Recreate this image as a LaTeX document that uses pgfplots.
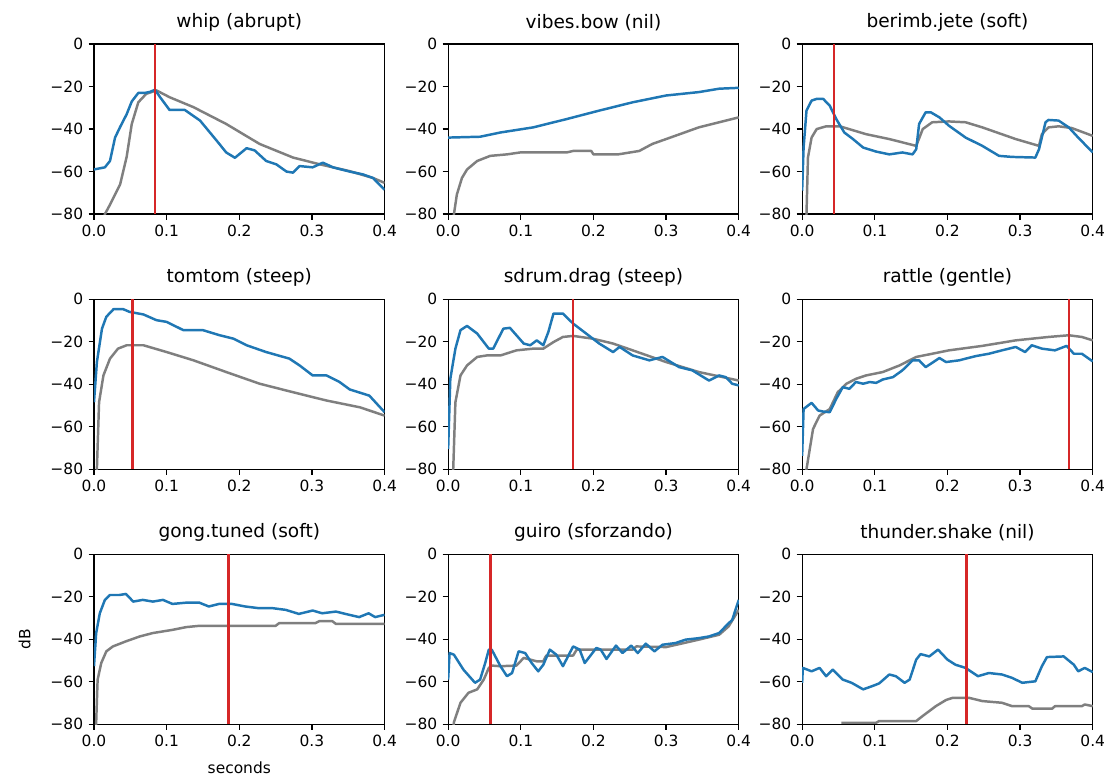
\documentclass[border=0pt]{standalone}
\usepackage{fontspec}
\setmainfont{DejaVu Sans}
\usepackage{pgfplots}
\pgfplotsset{compat=1.18}
\definecolor{cblue}{HTML}{1F77B4}
\definecolor{cgray}{HTML}{7F7F7F}
\definecolor{cred}{HTML}{D62728}

\pgfplotsset{panel/.style={
  scale only axis, width=188pt, height=110pt, anchor=north west,
  xmin=0, xmax=0.4, ymin=-80, ymax=0,
  xtick={0,0.1,0.2,0.3,0.4}, xticklabels={0.0,0.1,0.2,0.3,0.4},
  ytick={-80,-60,-40,-20,0}, yticklabels={−80,−60,−40,−20,0},
  tick align=outside, tick pos=left, major tick length=3.5pt,
  tick style={black, line width=0.8pt},
  axis line style={line width=0.8pt},
  ticklabel style={font=\fontsize{10}{12}\selectfont},
  title style={font=\fontsize{12}{14}\selectfont, yshift=-1pt},
  label style={font=\fontsize{10}{12}\selectfont},
  every axis plot/.append style={line width=1.6pt, line join=round},
}}

\begin{document}
\begin{tikzpicture}
\useasboundingbox (0,0) rectangle (720pt,-504pt);

% row 1
\begin{axis}[panel, at={(60.8pt,-28.5pt)}, title={whip (abrupt)}]
\addplot[cgray] coordinates {(0.012,-85) (0.015,-80) (0.022,-75.6) (0.036,-66) (0.045,-53) (0.052,-37.6) (0.061,-27.4) (0.072,-23.4) (0.086,-21.8) (0.104,-25) (0.137,-29.7) (0.182,-37.6) (0.228,-47) (0.274,-53.4) (0.311,-56.6) (0.352,-59.8) (0.384,-63) (0.4,-65.3)};
\addplot[cblue] coordinates {(0,-59) (0.015,-58) (0.022,-55) (0.029,-44) (0.036,-39) (0.045,-33) (0.052,-27) (0.061,-23) (0.070,-23) (0.077,-22.5) (0.084,-21.5) (0.091,-25) (0.104,-31) (0.125,-31) (0.146,-36) (0.169,-45.5) (0.182,-51) (0.194,-53.5) (0.21,-49) (0.221,-50) (0.237,-55) (0.251,-56.6) (0.265,-60) (0.274,-60.5) (0.283,-57.4) (0.301,-58) (0.315,-55.8) (0.329,-58) (0.352,-60) (0.370,-61.3) (0.384,-63) (0.4,-68.5)};
\addplot[cred] coordinates {(0.084,-80) (0.084,0)};
\end{axis}

\begin{axis}[panel, at={(289.9pt,-28.5pt)}, title={vibes.bow (nil)}]
\addplot[cgray] coordinates {(0.006,-85) (0.008,-80) (0.012,-70.8) (0.019,-63) (0.026,-59) (0.040,-55) (0.058,-52.6) (0.081,-51.9) (0.099,-51) (0.163,-51) (0.172,-50.3) (0.197,-50.3) (0.2,-51.9) (0.234,-51.9) (0.263,-50.3) (0.281,-47) (0.3,-44.7) (0.345,-39.2) (0.4,-34.5)};
\addplot[cblue] coordinates {(0,-44) (0.044,-43.6) (0.072,-41.6) (0.117,-39.2) (0.163,-35.3) (0.208,-31.3) (0.254,-27.4) (0.3,-24.2) (0.345,-22.6) (0.373,-21) (0.4,-20.6)};
\end{axis}

\begin{axis}[panel, at={(518.9pt,-28.5pt)}, title={berimb.jete (soft)}]
\addplot[cgray] coordinates {(0.005,-85) (0.006,-80) (0.008,-53.4) (0.013,-44) (0.020,-40) (0.033,-38.7) (0.052,-38.7) (0.088,-42.4) (0.120,-44.7) (0.157,-47.9) (0.166,-40) (0.179,-36.8) (0.202,-36.4) (0.225,-36.8) (0.248,-39.2) (0.294,-44.7) (0.326,-47.9) (0.330,-42.4) (0.339,-39.2) (0.353,-38.7) (0.371,-39.5) (0.4,-43.2)};
\addplot[cblue] coordinates {(0,-69) (0.002,-48.7) (0.006,-31.3) (0.013,-26.6) (0.020,-25.8) (0.029,-25.8) (0.038,-29) (0.047,-35.3) (0.058,-41.6) (0.070,-44.7) (0.084,-48.7) (0.102,-50.6) (0.120,-51.9) (0.138,-51) (0.152,-51.9) (0.157,-49.5) (0.161,-37.6) (0.170,-32.1) (0.177,-32.1) (0.189,-34.5) (0.202,-38.4) (0.225,-44) (0.248,-47.9) (0.271,-52.6) (0.289,-53.1) (0.321,-53.4) (0.326,-49.5) (0.335,-36.8) (0.339,-35.7) (0.353,-36) (0.367,-39.2) (0.380,-44) (0.4,-51)};
\addplot[cred] coordinates {(0.044,-80) (0.044,0)};
\end{axis}

% row 2
\begin{axis}[panel, at={(60.8pt,-193.5pt)}, title={tomtom (steep)}]
\addplot[cgray] coordinates {(0.003,-85) (0.004,-80) (0.007,-48.5) (0.013,-35.9) (0.022,-28) (0.033,-23.3) (0.045,-21.7) (0.068,-21.7) (0.1,-24.9) (0.137,-28.8) (0.182,-34.3) (0.228,-39.8) (0.274,-43.8) (0.320,-47.7) (0.366,-50.9) (0.4,-54.8)};
\addplot[cblue] coordinates {(0,-48.5) (0.004,-29.6) (0.011,-13.9) (0.017,-8.3) (0.027,-4.7) (0.040,-4.7) (0.049,-6) (0.068,-7.2) (0.086,-9.9) (0.1,-10.7) (0.123,-14.6) (0.150,-14.6) (0.173,-17) (0.192,-18.6) (0.210,-21.7) (0.237,-24.9) (0.269,-28) (0.283,-31.2) (0.301,-35.9) (0.320,-35.9) (0.338,-39) (0.352,-42.5) (0.379,-45.4) (0.4,-53.2)};
\addplot[cred] coordinates {(0.053,-80) (0.053,0)};
\end{axis}

\begin{axis}[panel, at={(289.9pt,-193.5pt)}, title={sdrum.drag (steep)}]
\addplot[cgray] coordinates {(0.006,-85) (0.007,-80) (0.010,-48.5) (0.017,-35.9) (0.026,-31.2) (0.040,-27.2) (0.053,-26.5) (0.072,-26.5) (0.094,-24.1) (0.117,-23.3) (0.131,-23.3) (0.145,-20.2) (0.158,-17.8) (0.172,-17.3) (0.199,-18.6) (0.227,-20.9) (0.254,-24.1) (0.300,-29.6) (0.345,-34.3) (0.4,-38.3)};
\addplot[cblue] coordinates {(0,-70.6) (0.003,-37.5) (0.010,-23.3) (0.017,-14.6) (0.026,-12.6) (0.040,-16.2) (0.056,-23.3) (0.062,-23.3) (0.076,-13.9) (0.085,-13.5) (0.094,-17) (0.104,-20.9) (0.113,-21.7) (0.122,-19.4) (0.131,-21.7) (0.138,-15.4) (0.145,-6.8) (0.158,-6.8) (0.172,-11.5) (0.190,-16.2) (0.208,-20.9) (0.227,-24.9) (0.236,-22.5) (0.254,-26.5) (0.277,-28.8) (0.295,-27.2) (0.318,-32) (0.336,-33.5) (0.359,-38.3) (0.373,-35.9) (0.382,-36.7) (0.391,-39.8) (0.4,-40.6)};
\addplot[cred] coordinates {(0.172,-80) (0.172,0)};
\end{axis}

\begin{axis}[panel, at={(518.9pt,-193.5pt)}, title={rattle (gentle)}]
\addplot[cgray] coordinates {(0.005,-85) (0.006,-80) (0.015,-61.1) (0.024,-54.8) (0.038,-51.7) (0.049,-43.8) (0.061,-39.8) (0.074,-37.5) (0.088,-35.9) (0.111,-34.3) (0.134,-31.2) (0.157,-27.2) (0.179,-25.7) (0.202,-24.1) (0.248,-22) (0.294,-19.4) (0.339,-17.8) (0.367,-17) (0.385,-17.8) (0.4,-19.4)};
\addplot[cblue] coordinates {(0,-73.7) (0.002,-51.7) (0.008,-50.1) (0.013,-48.8) (0.022,-52.4) (0.029,-52.9) (0.038,-53.2) (0.047,-46.9) (0.056,-41.4) (0.065,-42.2) (0.074,-39) (0.084,-39.8) (0.093,-39) (0.102,-39.4) (0.111,-37.8) (0.125,-36.7) (0.138,-33.5) (0.152,-28.8) (0.161,-28.8) (0.170,-32) (0.189,-27.7) (0.198,-29.6) (0.216,-28.8) (0.239,-26.8) (0.257,-25.7) (0.275,-24.1) (0.294,-22.5) (0.307,-24.9) (0.316,-21.7) (0.330,-23.3) (0.348,-24.1) (0.364,-22) (0.374,-25.7) (0.385,-25.7) (0.4,-29.3)};
\addplot[cred] coordinates {(0.367,-80) (0.367,0)};
\end{axis}

% row 3
\begin{axis}[panel, at={(60.8pt,-358.5pt)}, title={gong.tuned (soft)}, xlabel={seconds}, ylabel={dB}, xlabel shift=3pt, ylabel shift=6pt]
\addplot[cgray] coordinates {(0.002,-85) (0.003,-79.3) (0.005,-59) (0.010,-51.2) (0.017,-45.7) (0.026,-43.4) (0.044,-41) (0.063,-38.7) (0.081,-37.1) (0.108,-35.6) (0.127,-34.3) (0.145,-33.7) (0.191,-33.7) (0.250,-33.7) (0.255,-32.4) (0.305,-32.4) (0.310,-31.5) (0.328,-31.5) (0.333,-32.8) (0.4,-32.8)};
\addplot[cblue] coordinates {(0,-52.7) (0.003,-37.1) (0.008,-27.8) (0.015,-21.5) (0.022,-19.2) (0.035,-19.2) (0.044,-18.7) (0.054,-22.3) (0.067,-21.5) (0.081,-22.3) (0.095,-21.5) (0.108,-23.4) (0.127,-22.8) (0.145,-22.8) (0.158,-24.6) (0.172,-23.4) (0.190,-23.4) (0.208,-24.6) (0.227,-25.4) (0.246,-25.4) (0.264,-26.2) (0.282,-28.1) (0.301,-26.5) (0.314,-27.8) (0.333,-27) (0.351,-28.5) (0.365,-29.6) (0.378,-27.8) (0.387,-29.6) (0.4,-28.5)};
\addplot[cred] coordinates {(0.185,-80) (0.185,0)};
\end{axis}

\begin{axis}[panel, at={(289.9pt,-358.5pt)}, title={guiro (sforzando)}]
\addplot[cgray] coordinates {(0.006,-85) (0.008,-79) (0.017,-69.9) (0.028,-65.2) (0.040,-63.6) (0.049,-59) (0.056,-53.5) (0.060,-52.4) (0.072,-52.7) (0.094,-52.4) (0.104,-48.8) (0.122,-50.4) (0.131,-50.4) (0.135,-47.7) (0.172,-47.7) (0.177,-44.9) (0.254,-44.9) (0.259,-43.4) (0.300,-43.7) (0.345,-40.2) (0.373,-37.9) (0.386,-34) (0.4,-26.2)};
\addplot[cblue] coordinates {(0,-59) (0.002,-46.5) (0.008,-47.3) (0.021,-54.3) (0.037,-60.5) (0.044,-59) (0.051,-51.2) (0.056,-44.9) (0.060,-44.9) (0.072,-52.7) (0.081,-57.4) (0.088,-55.9) (0.097,-45.7) (0.106,-46.5) (0.115,-51.2) (0.124,-55.1) (0.131,-52) (0.140,-44.9) (0.149,-47.3) (0.158,-52.7) (0.172,-43.4) (0.181,-44.9) (0.188,-51.2) (0.204,-44.1) (0.210,-44.9) (0.218,-49.3) (0.231,-43) (0.240,-46.5) (0.252,-43) (0.261,-46.5) (0.272,-42.1) (0.284,-45.7) (0.295,-42.6) (0.313,-41.8) (0.327,-40.2) (0.345,-39.5) (0.359,-38.7) (0.373,-37.1) (0.384,-33.2) (0.391,-30.9) (0.4,-21.5)};
\addplot[cred] coordinates {(0.058,-80) (0.058,0)};
\end{axis}

\begin{axis}[panel, at={(518.9pt,-358.5pt)}, title={thunder.shake (nil)}]
\addplot[cgray] coordinates {(0.054,-79.3) (0.102,-79.3) (0.106,-78.5) (0.157,-78.5) (0.166,-76.1) (0.184,-71.5) (0.198,-68.6) (0.207,-67.6) (0.230,-67.6) (0.248,-69.1) (0.275,-69.9) (0.289,-71.5) (0.312,-71.5) (0.317,-72.7) (0.344,-72.7) (0.348,-71.5) (0.385,-71.5) (0.389,-70.7) (0.4,-71.5)};
\addplot[cblue] coordinates {(0,-60.5) (0.001,-53.5) (0.013,-55.1) (0.024,-53.5) (0.033,-57.4) (0.042,-54.3) (0.056,-59) (0.068,-60.5) (0.084,-63.6) (0.097,-62) (0.106,-60.8) (0.120,-56.6) (0.129,-57.4) (0.141,-60.5) (0.148,-59) (0.157,-49.6) (0.163,-47) (0.175,-48.1) (0.187,-44.9) (0.200,-49.6) (0.211,-52) (0.225,-53.5) (0.242,-57.4) (0.257,-55.9) (0.275,-56.6) (0.289,-58.2) (0.303,-60.5) (0.321,-59.8) (0.330,-52.7) (0.337,-48.4) (0.360,-48.1) (0.374,-52) (0.380,-55.1) (0.389,-53.5) (0.4,-55.5)};
\addplot[cred] coordinates {(0.226,-80) (0.226,0)};
\end{axis}
\end{tikzpicture}
\end{document}
